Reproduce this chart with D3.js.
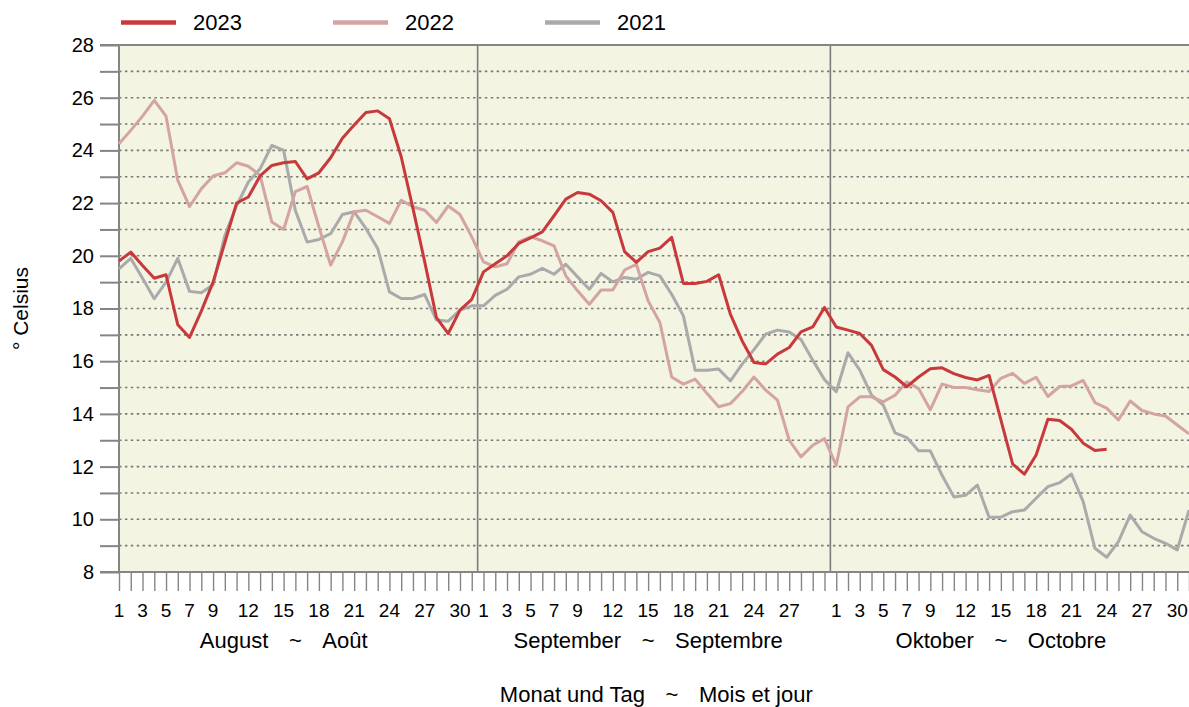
<!DOCTYPE html>
<html>
<head>
<meta charset="utf-8">
<script src="https://cdn.jsdelivr.net/npm/d3@7"></script>
<style>
  body { margin: 0; background: #fff; }
  svg { display: block; font-family: 'Liberation Sans', Arial, sans-serif; }
</style>
</head>
<body>
<svg id="chart" width="1189" height="707"></svg>
<script>
// month meta
const monthDays = [31, 30, 31];
const monthDe = ['August', 'September', 'Oktober'];
const monthFr = ['Août', 'Septembre', 'Octobre'];
const monthLabelDay = [16, 15, 15];
const dayLabels = [
  [1, 3, 5, 7, 9, 12, 15, 18, 21, 24, 27, 30],
  [1, 3, 5, 7, 9, 12, 15, 18, 21, 24, 27],
  [1, 3, 5, 7, 9, 12, 15, 18, 21, 24, 27, 30],
];
const yTicks = d3.range(8, 29);

const years = ['2023', '2022', '2021'];
const colors = ['#c8393c', '#d4a3a3', '#aaaaaa'];

// daily temperatures, 1 Aug .. 31 Oct
const t2023 = [
  19.8, 20.14, 19.63, 19.15, 19.28, 17.38, 16.9, 17.9, 19.0, 20.5, 22.0,
  22.23, 23.03, 23.43, 23.53, 23.58, 22.92, 23.15, 23.72, 24.46, 24.96, 25.44,
  25.5, 25.2, 23.76, 21.8, 19.77, 17.65, 17.05, 17.94, 18.35,
  19.39, 19.7, 20.0, 20.47, 20.68, 20.91, 21.52, 22.15, 22.4, 22.34, 22.09,
  21.65, 20.16, 19.75, 20.16, 20.29, 20.7, 18.95, 18.95, 19.03, 19.28, 17.78,
  16.77, 15.95, 15.9, 16.27, 16.52, 17.11, 17.3, 18.04,
  17.3, 17.18, 17.05, 16.6, 15.68, 15.4, 15.03, 15.4, 15.71, 15.75, 15.53,
  15.38, 15.29, 15.46, 13.77, 12.1, 11.71, 12.44, 13.8, 13.75, 13.42, 12.89,
  12.61, 12.66,
];
const t2022 = [
  24.25, 24.76, 25.3, 25.9, 25.3, 22.86, 21.87, 22.54, 23.03, 23.15, 23.53,
  23.4, 23.05, 21.28, 21.0, 22.44, 22.63, 21.1, 19.65, 20.53, 21.67, 21.73,
  21.48, 21.23, 22.11, 21.86, 21.73, 21.27, 21.89, 21.57, 20.72,
  19.77, 19.58, 19.7, 20.53, 20.72, 20.57, 20.38, 19.24, 18.67, 18.16, 18.7,
  18.7, 19.46, 19.68, 18.29, 17.47, 15.4, 15.13, 15.32, 14.78, 14.27, 14.39,
  14.85, 15.4, 14.9, 14.52, 13.0, 12.37, 12.81, 13.06,
  12.05, 14.27, 14.65, 14.65, 14.46, 14.71, 15.22, 14.96, 14.16, 15.13, 15.0,
  15.0, 14.92, 14.85, 15.35, 15.54, 15.16, 15.39, 14.66, 15.04, 15.06, 15.27,
  14.43, 14.22, 13.77, 14.49, 14.13, 14.0, 13.92, 13.58, 13.24,
];
const t2021 = [
  19.5, 19.9, 19.15, 18.37, 19.0, 19.9, 18.65, 18.6, 18.9, 20.77, 21.9,
  22.8, 23.3, 24.19, 24.0, 21.72, 20.52, 20.62, 20.84, 21.57, 21.67, 21.04,
  20.28, 18.63, 18.38, 18.38, 18.53, 17.56, 17.52, 17.94, 18.1,
  18.1, 18.5, 18.73, 19.2, 19.3, 19.52, 19.3, 19.68, 19.2, 18.73, 19.33,
  19.01, 19.18, 19.11, 19.37, 19.24, 18.54, 17.72, 15.66, 15.66, 15.7, 15.25,
  15.89, 16.44, 17.03, 17.18, 17.11, 16.82, 16.04, 15.3,
  14.84, 16.32, 15.66, 14.71, 14.33, 13.28, 13.1, 12.6, 12.6, 11.67, 10.85,
  10.91, 11.3, 10.08, 10.08, 10.29, 10.35, 10.8, 11.24, 11.39, 11.72, 10.67,
  8.9, 8.56, 9.15, 10.16, 9.53, 9.28, 9.09, 8.84, 10.35,
];
const series = [t2023, t2022, t2021];

const svg = d3.select('#chart');
const axisColor = '#858585';
const nDays = d3.sum(monthDays);
const monthStart = d3.cumsum([0, ...monthDays]);  // index of first day per month

const x = d3.scaleLinear().domain([0, nDays - 1]).range([119, 1189]);
const y = d3.scaleLinear().domain([8, 28]).range([572, 45]);
const yTop = y(28), yBottom = y(8);

// plot background
svg.append('rect')
    .attr('x', x(0)).attr('y', yTop)
    .attr('width', x(nDays - 1) - x(0)).attr('height', yBottom - yTop)
    .attr('fill', '#f3f4e2');

// dotted grid
svg.append('g').selectAll('line')
    .data(yTicks.filter(v => v > 8 && v < 28))
    .join('line')
      .attr('x1', x(0)).attr('x2', x(nDays - 1))
      .attr('y1', d => y(d)).attr('y2', d => y(d))
      .attr('stroke', '#7a7a7a')
      .attr('stroke-width', 1.6)
      .attr('stroke-dasharray', '2.5,3.4');

// month separators
svg.append('g').selectAll('line')
    .data(monthStart.slice(1, -1))
    .join('line')
      .attr('x1', d => x(d - 0.5)).attr('x2', d => x(d - 0.5))
      .attr('y1', yTop).attr('y2', yBottom)
      .attr('stroke', '#7d7d7d')
      .attr('stroke-width', 1.6);

// y axis
const yAxis = svg.append('g')
    .attr('transform', `translate(${x(0)},0)`)
    .call(d3.axisLeft(y).tickValues(yTicks).tickSize(19).tickPadding(6)
      .tickFormat(d => d % 2 === 0 ? d : ''));
yAxis.select('.domain').remove();
yAxis.selectAll('.tick line').attr('stroke', axisColor).attr('stroke-width', 2);
yAxis.selectAll('text').attr('fill', '#000').style('font-size', '20px')
    .style('font-family', "'Liberation Sans', Arial, sans-serif");

// x axis: a tick for every day, labels drawn separately
const xAxis = svg.append('g')
    .attr('transform', `translate(0,${yBottom})`)
    .call(d3.axisBottom(x).tickValues(d3.range(nDays)).tickSize(19).tickFormat(''));
xAxis.select('.domain').remove();
xAxis.selectAll('.tick line').attr('stroke', axisColor).attr('stroke-width', 1.4);

// frame
svg.append('line').attr('x1', x(0)).attr('x2', x(0)).attr('y1', yTop).attr('y2', yBottom)
    .attr('stroke', axisColor).attr('stroke-width', 2);
svg.append('line').attr('x1', x(0) - 19).attr('x2', x(nDays - 1)).attr('y1', yTop).attr('y2', yTop)
    .attr('stroke', axisColor).attr('stroke-width', 2);
svg.append('line').attr('x1', x(0) - 19).attr('x2', x(nDays - 1)).attr('y1', yBottom).attr('y2', yBottom)
    .attr('stroke', axisColor).attr('stroke-width', 2);

// day labels
const dayTicks = dayLabels.flatMap((days, m) => days.map(d => ({ d, i: monthStart[m] + d - 1 })));
svg.append('g').selectAll('text')
    .data(dayTicks)
    .join('text')
      .attr('x', d => x(d.i))
      .attr('y', 617)
      .attr('text-anchor', 'middle')
      .style('font-size', '19px')
      .text(d => d.d);

// month labels: "German ~ French"
const tildeLabel = (g, cx, cy, left, right, gap) => {
  g.append('text').attr('x', cx - gap).attr('y', cy).attr('text-anchor', 'end').text(left);
  g.append('text').attr('x', cx).attr('y', cy).attr('text-anchor', 'middle').text('~');
  g.append('text').attr('x', cx + gap).attr('y', cy).attr('text-anchor', 'start').text(right);
};
const monthG = svg.append('g').style('font-size', '22px');
monthDe.forEach((de, m) => {
  tildeLabel(monthG, x(monthStart[m] + monthLabelDay[m] - 1), 648, de, monthFr[m], 27);
});

// axis titles
const titleG = svg.append('g').style('font-size', '22px');
tildeLabel(titleG, 672, 702, 'Monat und Tag', 'Mois et jour', 27);
svg.append('text')
    .attr('transform', `translate(28,${(yTop + yBottom) / 2}) rotate(-90)`)
    .attr('text-anchor', 'middle')
    .style('font-size', '21px')
    .text('° Celsius');

// lines, oldest year first so 2023 ends up on top
const line = d3.line().x((d, i) => x(i)).y(d => y(d));
svg.append('g').selectAll('path')
    .data(series.map((s, k) => ({ s, k })).reverse())
    .join('path')
      .attr('d', d => line(d.s))
      .attr('fill', 'none')
      .attr('stroke', d => colors[d.k])
      .attr('stroke-width', 3)
      .attr('stroke-linejoin', 'round');

// legend
const legendX = [121, 333, 545];
const legend = svg.append('g').selectAll('g')
    .data(years)
    .join('g')
      .attr('transform', (d, i) => `translate(${legendX[i]},22.5)`);
legend.append('line')
    .attr('x1', 0).attr('x2', 55)
    .attr('stroke', (d, i) => colors[i])
    .attr('stroke-width', 4.7);
legend.append('text')
    .attr('x', 72).attr('y', 7.8)
    .style('font-size', '22px')
    .text(d => d);
</script>
</body>
</html>
